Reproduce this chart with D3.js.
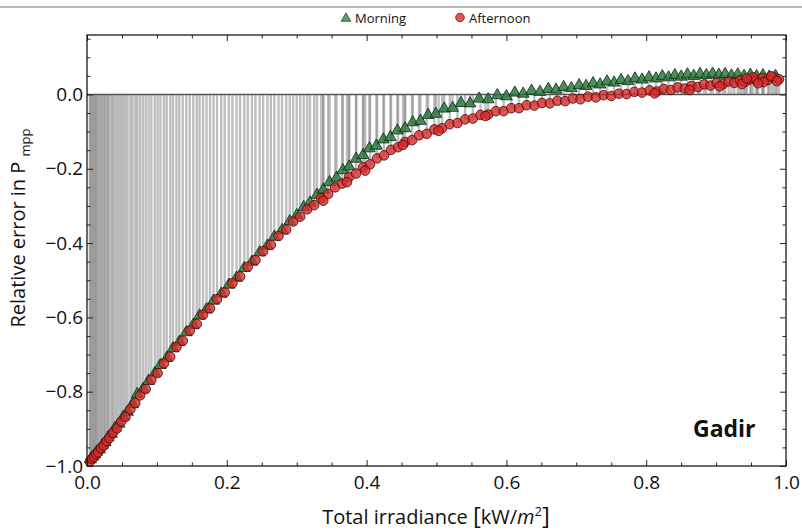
<!DOCTYPE html>
<html>
<head>
<meta charset="utf-8">
<script src="https://cdn.jsdelivr.net/npm/d3@7"></script>
<style>
  body { margin: 0; background: #fff; }
  text { font-family: "Open Sans", "Noto Sans", sans-serif; fill: #111; }
</style>
</head>
<body>
<script>
// Data: [irradiance kW/m2, relative error]
let morning = [
  [0.005,-0.985],[0.008,-0.978],[0.011,-0.972],[0.014,-0.964],[0.018,-0.958],[0.022,-0.946],
  [0.026,-0.939],[0.030,-0.926],[0.035,-0.916],[0.040,-0.900],[0.046,-0.889],[0.052,-0.870],
  [0.058,-0.857],[0.065,-0.836],[0.072,-0.809],[0.080,-0.796],[0.088,-0.774],[0.097,-0.753],
  [0.105,-0.731],[0.114,-0.712],[0.123,-0.686],[0.132,-0.669],[0.142,-0.643],[0.152,-0.623],
  [0.161,-0.598],[0.171,-0.581],[0.181,-0.558],[0.192,-0.539],[0.203,-0.515],[0.214,-0.496],
  [0.225,-0.470],[0.236,-0.453],[0.247,-0.428],[0.258,-0.410],[0.268,-0.386],[0.279,-0.368],
  [0.290,-0.344],[0.300,-0.328],[0.310,-0.306],[0.319,-0.294],[0.329,-0.273],[0.338,-0.259],
  [0.347,-0.239],[0.357,-0.227],[0.366,-0.207],[0.375,-0.197],[0.385,-0.176],[0.395,-0.166],
  [0.404,-0.148],[0.414,-0.141],[0.424,-0.124],[0.434,-0.118],[0.444,-0.100],[0.455,-0.094],
  [0.466,-0.078],[0.477,-0.074],[0.488,-0.058],[0.499,-0.055],[0.511,-0.041],[0.523,-0.039],
  [0.535,-0.026],[0.548,-0.027],[0.561,-0.014],[0.574,-0.016],[0.587,-0.005],[0.600,-0.008],
  [0.612,0.002],[0.624,-0.001],[0.636,0.007],[0.648,0.004],[0.660,0.012],[0.671,0.010],
  [0.682,0.017],[0.693,0.014],[0.704,0.022],[0.714,0.020],[0.724,0.027],[0.734,0.024],
  [0.744,0.032],[0.754,0.029],[0.764,0.036],[0.774,0.033],[0.784,0.040],[0.794,0.037],
  [0.804,0.043],[0.814,0.040],[0.823,0.046],[0.832,0.043],[0.841,0.049],[0.850,0.045],
  [0.859,0.051],[0.868,0.047],[0.877,0.052],[0.886,0.049],[0.895,0.053],[0.904,0.050],
  [0.913,0.052],[0.922,0.048],[0.931,0.051],[0.940,0.047],[0.949,0.050],[0.958,0.046],
  [0.967,0.049],[0.976,0.045],[0.985,0.047]
];

let afternoon = [
  [0.004,-0.988],[0.007,-0.981],[0.010,-0.976],[0.013,-0.968],[0.016,-0.963],[0.020,-0.952],
  [0.024,-0.945],[0.028,-0.933],[0.032,-0.925],[0.037,-0.911],[0.043,-0.899],[0.049,-0.880],
  [0.055,-0.868],[0.062,-0.847],[0.069,-0.831],[0.076,-0.810],[0.084,-0.793],[0.092,-0.768],
  [0.101,-0.750],[0.110,-0.724],[0.119,-0.706],[0.128,-0.680],[0.137,-0.663],[0.147,-0.636],
  [0.157,-0.618],[0.166,-0.593],[0.176,-0.576],[0.186,-0.551],[0.197,-0.533],[0.208,-0.508],
  [0.219,-0.490],[0.230,-0.464],[0.241,-0.446],[0.252,-0.422],[0.263,-0.405],[0.274,-0.381],
  [0.285,-0.364],[0.295,-0.342],[0.305,-0.329],[0.315,-0.309],[0.325,-0.298],[0.335,-0.279],
  [0.345,-0.268],[0.355,-0.250],[0.365,-0.240],[0.375,-0.222],[0.385,-0.213],[0.395,-0.196],
  [0.405,-0.188],[0.415,-0.172],[0.425,-0.164],[0.435,-0.149],[0.445,-0.142],[0.455,-0.128],
  [0.465,-0.123],[0.475,-0.110],[0.486,-0.106],[0.497,-0.094],[0.508,-0.091],[0.519,-0.080],
  [0.530,-0.077],[0.541,-0.067],[0.552,-0.065],[0.563,-0.055],[0.574,-0.054],[0.585,-0.045],
  [0.596,-0.045],[0.607,-0.037],[0.618,-0.037],[0.629,-0.029],[0.640,-0.030],[0.651,-0.023],
  [0.662,-0.024],[0.673,-0.017],[0.684,-0.018],[0.695,-0.011],[0.706,-0.013],[0.717,-0.006],
  [0.728,-0.008],[0.739,-0.002],[0.750,-0.004],[0.761,0.002],[0.772,0.001],[0.783,0.007],
  [0.794,0.005],[0.805,0.011],[0.815,0.008],[0.825,0.015],[0.835,0.012],[0.845,0.019],
  [0.855,0.016],[0.865,0.023],[0.874,0.020],[0.883,0.027],[0.892,0.024],[0.901,0.031],
  [0.910,0.028],[0.918,0.035],[0.926,0.031],[0.934,0.038],[0.942,0.034],[0.950,0.041],
  [0.958,0.037],[0.966,0.044],[0.974,0.039],[0.982,0.046],[0.990,0.041],
  // scattered lighter points
  [0.338,-0.286],[0.372,-0.236],[0.398,-0.205],[0.452,-0.136],[0.503,-0.098],[0.57,-0.058],
  [0.812,0.003],[0.862,0.012],[0.905,0.022],[0.937,0.028],[0.953,0.046],[0.968,0.033],
  [0.979,0.049],[0.987,0.036],[0.944,0.043],[0.96,0.030]
];

let xTicks = [0, 0.2, 0.4, 0.6, 0.8, 1.0];
let yTicks = [-1.0, -0.8, -0.6, -0.4, -0.2, 0.0];
let seriesNames = ["Morning", "Afternoon"];

let W = 802, H = 531;
let plot = { left: 87, right: 786, top: 35, bottom: 466 };

let svg = d3.select("body").append("svg")
  .attr("width", W).attr("height", H);

// light rule at the very top
svg.append("line")
  .attr("x1", 0).attr("x2", W).attr("y1", 7).attr("y2", 7)
  .attr("stroke", "#b8b8b8").attr("stroke-width", 2);

let x = d3.scaleLinear().domain([0, 1]).range([plot.left, plot.right]);
let y = d3.scaleLinear().domain([-1, 0.16]).range([plot.bottom, plot.top]);

let all = morning.concat(afternoon);

// drop lines to the axis
svg.append("g").selectAll("line")
  .data(all).enter().append("line")
    .attr("x1", d => x(d[0])).attr("x2", d => x(d[0]))
    .attr("y1", y(0)).attr("y2", d => y(d[1]))
    .attr("stroke", "#808080")
    .attr("stroke-opacity", 0.5)
    .attr("stroke-width", 2.4);

// zero line
svg.append("line")
  .attr("x1", plot.left).attr("x2", plot.right)
  .attr("y1", y(0)).attr("y2", y(0))
  .attr("stroke", "#555").attr("stroke-width", 1.5);

// markers
let tri = d3.symbol().type(d3.symbolTriangle).size(60);
svg.append("g").selectAll("path")
  .data(morning).enter().append("path")
    .attr("d", tri)
    .attr("transform", d => "translate(" + x(d[0]) + "," + (y(d[1]) - 1) + ")")
    .attr("fill", "#2a7a3e").attr("fill-opacity", 0.85)
    .attr("stroke", "#0c2a12").attr("stroke-width", 0.8);

svg.append("g").selectAll("circle")
  .data(afternoon).enter().append("circle")
    .attr("cx", d => x(d[0])).attr("cy", d => y(d[1]))
    .attr("r", 4.8)
    .attr("fill", "#d42a2a").attr("fill-opacity", 0.8)
    .attr("stroke", "#4a0808").attr("stroke-width", 0.8);

// axes
let minorX = d3.range(0, 1.0001, 0.05).filter(v => Math.round(v * 100) % 20 !== 0);
let minorY = d3.range(-1, 0.1501, 0.05).filter(v => Math.round(Math.abs(v) * 100) % 20 !== 0);

function styleAxis(g) {
  g.select(".domain").remove();
  g.selectAll("line").attr("stroke", "#222");
  g.selectAll("text").style("font-size", "19px").attr("fill", "#111");
}

svg.append("g").attr("transform", "translate(0," + plot.bottom + ")")
  .call(d3.axisBottom(x).tickValues(xTicks).tickSize(-6).tickPadding(10).tickFormat(d3.format(".1f")))
  .call(styleAxis);
svg.append("g").attr("transform", "translate(0," + plot.bottom + ")")
  .call(d3.axisBottom(x).tickValues(minorX).tickSize(-3.5).tickFormat(""))
  .call(styleAxis);
svg.append("g").attr("transform", "translate(0," + plot.top + ")")
  .call(d3.axisTop(x).tickValues(xTicks).tickSize(-6).tickFormat(""))
  .call(styleAxis);
svg.append("g").attr("transform", "translate(0," + plot.top + ")")
  .call(d3.axisTop(x).tickValues(minorX).tickSize(-3.5).tickFormat(""))
  .call(styleAxis);

svg.append("g").attr("transform", "translate(" + plot.left + ",0)")
  .call(d3.axisLeft(y).tickValues(yTicks).tickSize(-6).tickPadding(4).tickFormat(d3.format(".1f")))
  .call(styleAxis);
svg.append("g").attr("transform", "translate(" + plot.left + ",0)")
  .call(d3.axisLeft(y).tickValues(minorY).tickSize(-3.5).tickFormat(""))
  .call(styleAxis);
svg.append("g").attr("transform", "translate(" + plot.right + ",0)")
  .call(d3.axisRight(y).tickValues(yTicks).tickSize(-6).tickFormat(""))
  .call(styleAxis);
svg.append("g").attr("transform", "translate(" + plot.right + ",0)")
  .call(d3.axisRight(y).tickValues(minorY).tickSize(-3.5).tickFormat(""))
  .call(styleAxis);

// frame
svg.append("rect")
  .attr("x", plot.left).attr("y", plot.top)
  .attr("width", plot.right - plot.left).attr("height", plot.bottom - plot.top)
  .attr("fill", "none").attr("stroke", "#1a1a1a").attr("stroke-width", 1.3);

// axis titles
let xt = svg.append("text")
  .attr("x", 436).attr("y", 524)
  .attr("text-anchor", "middle")
  .style("font-size", "20px");
xt.append("tspan").text("Total irradiance ");
xt.append("tspan").text("[").style("font-size", "24px");
xt.append("tspan").text("kW/");
xt.append("tspan").text("m").style("font-style", "italic");
xt.append("tspan").text("2").attr("dy", -8).style("font-size", "13px");
xt.append("tspan").text("]").attr("dy", 8).style("font-size", "24px");

let yt = svg.append("text")
  .attr("transform", "translate(25,228) rotate(-90)")
  .attr("text-anchor", "middle")
  .style("font-size", "20px");
yt.append("tspan").text("Relative error in P ");
yt.append("tspan").text("mpp").attr("dy", 5).style("font-size", "13px");

// station label
svg.append("text")
  .attr("x", 693).attr("y", 437)
  .style("font-size", "23px").style("font-weight", "bold")
  .text("Gadir");

// legend
let legend = svg.append("g");
legend.append("path")
  .attr("d", d3.symbol().type(d3.symbolTriangle).size(40))
  .attr("transform", "translate(346,18.5)")
  .attr("fill", "#5d9e6c").attr("stroke", "#1d4a28").attr("stroke-width", 0.8);
legend.append("text").attr("x", 355).attr("y", 22.5)
  .style("font-size", "13px").text(seriesNames[0]);
legend.append("circle")
  .attr("cx", 460).attr("cy", 17.5).attr("r", 4.3)
  .attr("fill", "#e05555").attr("stroke", "#6a1515").attr("stroke-width", 0.8);
legend.append("text").attr("x", 469).attr("y", 22.5)
  .style("font-size", "13px").text(seriesNames[1]);
</script>
</body>
</html>
